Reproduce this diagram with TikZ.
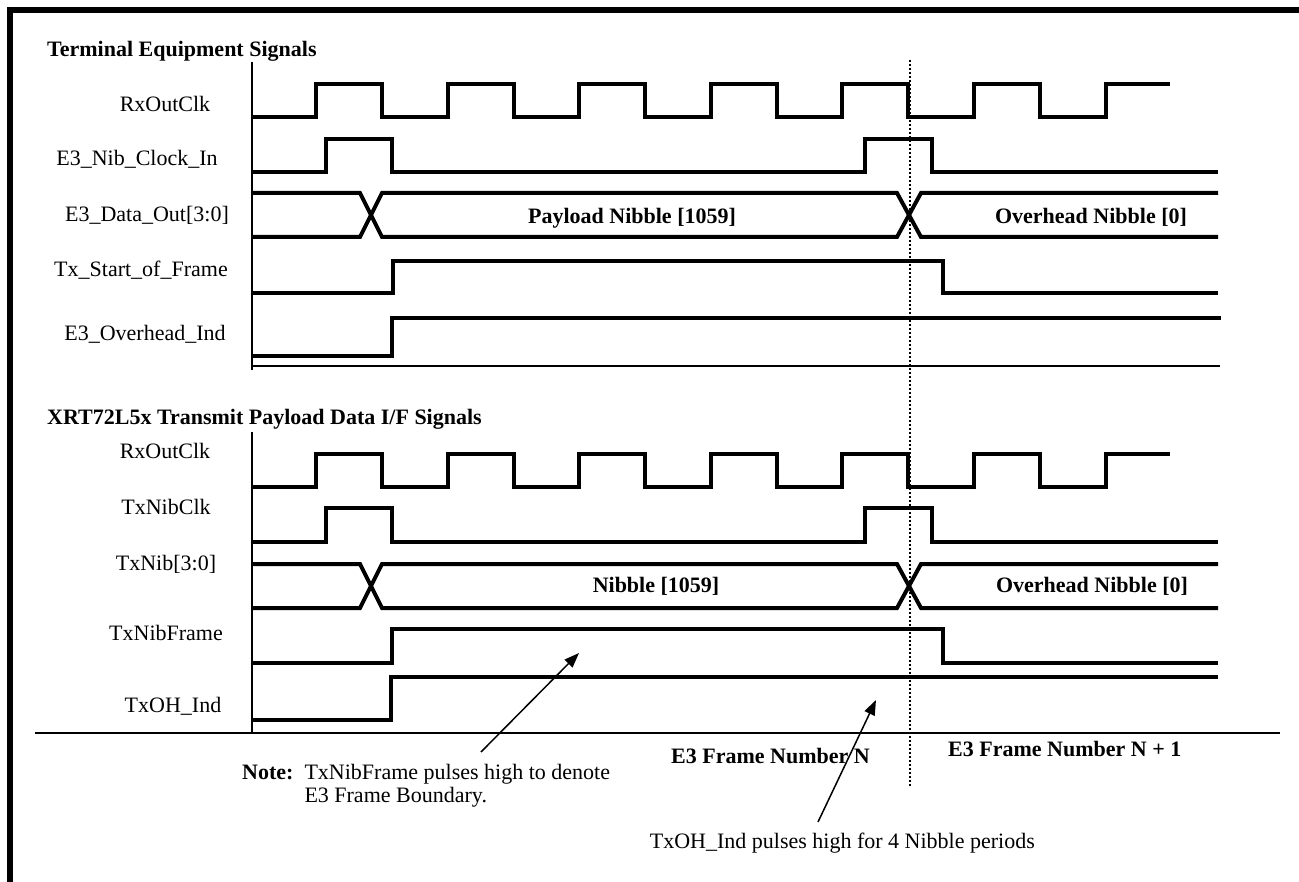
\documentclass[tikz,border=0pt]{standalone}
\usepackage{fontspec}
\setmainfont{Liberation Serif}
\usetikzlibrary{arrows.meta}
\begin{document}
\begin{tikzpicture}[x=1pt,y=-1pt,
  wave/.style={line width=4pt,line join=miter},
  thinline/.style={line width=1.5pt},
  frameline/.style={line width=6pt,line join=miter},
  lbl/.style={font=\fontsize{22}{23.5}\selectfont,inner sep=0pt},
  blbl/.style={font=\fontsize{22}{23.5}\selectfont\bfseries,inner sep=0pt},
  note arrow/.style={line width=1.5pt,-{Triangle[length=15pt,width=11pt]}}]
\useasboundingbox (0,0) rectangle (1299,882);
% frame
\draw[frameline] (10,882) -- (10,10) -- (1299,10);
% ---------- top section ----------
\node[blbl,anchor=base west] (t1) at (47,57) {Terminal Equipment Signals};
\draw[thinline] (252,62) -- (252,370);
\draw[thinline] (252,366) -- (1220,366);
\node[lbl,anchor=base] (l1) at (165,112) {RxOutClk};
\node[lbl,anchor=base] (l2) at (137,166) {E3\_Nib\_Clock\_In};
\node[lbl,anchor=base] (l3) at (147,222) {E3\_Data\_Out[3:0]};
\node[lbl,anchor=base] (l4) at (141,277) {Tx\_Start\_of\_Frame};
\node[lbl,anchor=base] (l5) at (145,341) {E3\_Overhead\_Ind};
% RxOutClk
\draw[wave] (252,117) \foreach \k in {0,...,5}{ -- ({316+131.6*\k},117) -- ({316+131.6*\k},84) -- ({382+131.6*\k},84) -- ({382+131.6*\k},117)} -- (1105.6,117) -- (1105.6,84) -- (1170,84);
% E3_Nib_Clock_In
\draw[wave] (252,172) -- (326,172) -- (326,139) -- (392,139) -- (392,172) -- (865,172) -- (865,139) -- (932,139) -- (932,172) -- (1218,172);
% E3_Data_Out
\draw[wave] (252,193) -- (360,193) -- (382,237) -- (897,237) -- (921,193) -- (1218,193);
\draw[wave] (252,237) -- (360,237) -- (382,193) -- (897,193) -- (921,237) -- (1218,237);
\node[blbl,anchor=base] (d1) at (632,224) {Payload Nibble [1059]};
\node[blbl,anchor=base] (d2) at (1091,224) {Overhead Nibble [0]};
% Tx_Start_of_Frame
\draw[wave] (252,293) -- (393,293) -- (393,261) -- (943,261) -- (943,293) -- (1218,293);
% E3_Overhead_Ind
\draw[wave] (252,356) -- (392,356) -- (392,318) -- (1221,318);
% ---------- bottom section ----------
\node[blbl,anchor=base west] (t2) at (47,425) {XRT72L5x Transmit Payload Data I/F Signals};
\draw[thinline] (252,432) -- (252,733);
\draw[thinline] (35,733) -- (1280,733);
\node[lbl,anchor=base] (m1) at (165,458) {RxOutClk};
\node[lbl,anchor=base] (m2) at (166,514) {TxNibClk};
\node[lbl,anchor=base] (m3) at (166,570) {TxNib[3:0]};
\node[lbl,anchor=base] (m4) at (166,640) {TxNibFrame};
\node[lbl,anchor=base] (m5) at (173,712) {TxOH\_Ind};
% RxOutClk
\draw[wave] (252,487) \foreach \k in {0,...,5}{ -- ({316+131.6*\k},487) -- ({316+131.6*\k},454) -- ({382+131.6*\k},454) -- ({382+131.6*\k},487)} -- (1105.6,487) -- (1105.6,454) -- (1170,454);
% TxNibClk
\draw[wave] (252,542) -- (326,542) -- (326,508) -- (392,508) -- (392,542) -- (865,542) -- (865,508) -- (932,508) -- (932,542) -- (1218,542);
% TxNib
\draw[wave] (252,564) -- (360,564) -- (382,608) -- (897,608) -- (921,564) -- (1218,564);
\draw[wave] (252,608) -- (360,608) -- (382,564) -- (897,564) -- (921,608) -- (1218,608);
\node[blbl,anchor=base] (n1) at (656,592) {Nibble [1059]};
\node[blbl,anchor=base] (n2) at (1092,592) {Overhead Nibble [0]};
% TxNibFrame
\draw[wave] (252,663) -- (392,663) -- (392,629) -- (943,629) -- (943,663) -- (1218,663);
% TxOH_Ind
\draw[wave] (252,720) -- (391,720) -- (391,677) -- (1218,677);
% frame boundary
\draw[thinline,dash pattern=on 2pt off 2pt] (910,60) -- (910,786);
\node[blbl,anchor=base east] (f1) at (870,763) {E3 Frame Number N};
\node[blbl,anchor=base west] (f2) at (948,756) {E3 Frame Number N + 1};
% notes
\node[lbl,anchor=base west] (note1) at (242,779) {\begin{tabular}[t]{@{}l@{\ \ }l@{}}\textbf{Note:} & TxNibFrame pulses high to denote\\ & E3 Frame Boundary.\end{tabular}};
\node[lbl,anchor=base east] (note2) at (1035,848) {TxOH\_Ind pulses high for 4 Nibble periods};
\coordinate (a1) at (481,752);
\coordinate (a2) at (579,653);
\coordinate (b1) at (818,822);
\coordinate (b2) at (876,700);
\draw[note arrow] (a1) -- (a2);
\draw[note arrow] (b1) -- (b2);
\end{tikzpicture}
\end{document}
